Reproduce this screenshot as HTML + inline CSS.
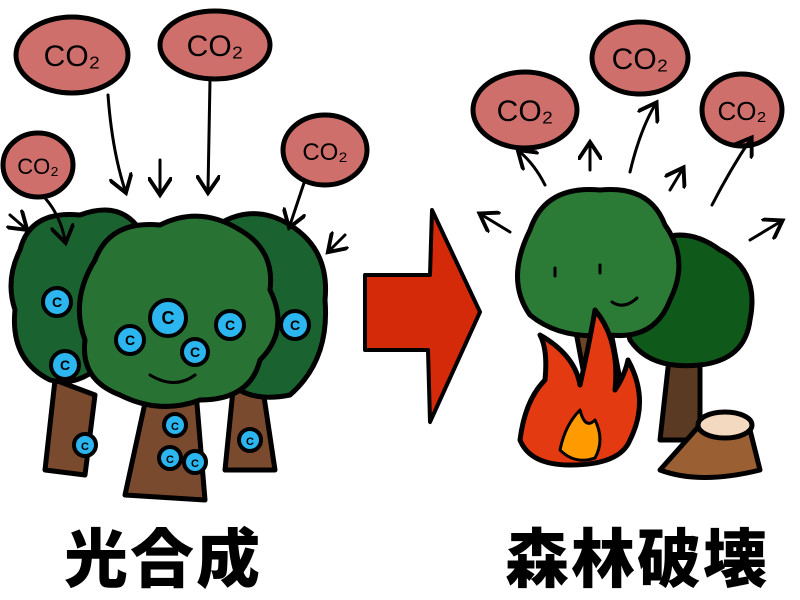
<!DOCTYPE html>
<html><head><meta charset="utf-8"><style>
html,body{margin:0;padding:0;background:#fff}
svg{display:block}
.t{font-family:"Liberation Sans","Noto Sans CJK JP",sans-serif;font-weight:900}
</style></head><body>
<svg width="800" height="600" viewBox="0 0 800 600" xmlns="http://www.w3.org/2000/svg">
<defs>
<marker id="ah" markerWidth="8" markerHeight="8" refX="5" refY="4" orient="auto" markerUnits="strokeWidth">
<path d="M0,0 L6,4 L0,8" fill="none" stroke="#000" stroke-width="1.3"/>
</marker>
</defs>
<g stroke="#000" stroke-width="5" stroke-linejoin="round" stroke-linecap="round">
<path d="M55,380 L45,470 L85,475 L95,395 Z" fill="#7a4a2e"/>
<path d="M150,380 L125,495 L205,500 L195,380 Z" fill="#7a4a2e"/>
<path d="M235,370 L225,470 L275,470 L260,370 Z" fill="#7a4a2e"/>
<path d="M20,250 Q30,210 80,215 Q120,200 140,230 Q150,280 120,340 Q90,390 50,380 Q10,360 15,310 Q5,280 20,250Z" fill="#1a6330"/>
<path d="M210,230 Q250,200 290,225 Q330,250 325,300 Q330,360 290,395 Q240,405 220,370 Q190,300 210,230Z" fill="#1a6330"/>
<path d="M95,260 Q110,220 160,225 Q200,205 240,230 Q275,250 270,290 Q290,330 260,360 Q250,400 200,400 Q160,415 120,395 Q80,380 85,340 Q70,300 95,260Z" fill="#287233"/>
<g fill="#2bb6f0" stroke-width="4">
<circle cx="57" cy="302" r="14"/><circle cx="65" cy="365" r="14"/><circle cx="130" cy="340" r="14"/>
<circle cx="168" cy="318" r="18"/><circle cx="195" cy="352" r="13"/><circle cx="230" cy="325" r="14"/>
<circle cx="295" cy="325" r="14"/><circle cx="175" cy="425" r="11"/><circle cx="170" cy="458" r="11"/>
<circle cx="195" cy="462" r="11"/><circle cx="250" cy="440" r="11"/><circle cx="85" cy="445" r="11"/>
</g>
<g fill="#cf6f6c">
<ellipse cx="72" cy="55" rx="56" ry="38"/><ellipse cx="215" cy="45" rx="55" ry="34"/>
<ellipse cx="38" cy="165" rx="35" ry="32"/><ellipse cx="325" cy="150" rx="42" ry="35"/>
<ellipse cx="525" cy="110" rx="52" ry="38"/><ellipse cx="640" cy="58" rx="48" ry="36"/>
<ellipse cx="742" cy="110" rx="40" ry="36"/>
</g>
<g fill="none" stroke-width="3" marker-end="url(#ah)">
<path d="M108,95 Q112,150 125,190"/><path d="M210,80 L208,190"/><path d="M160,160 L160,192"/>
<path d="M45,198 Q60,215 65,240"/><path d="M10,215 L25,228"/><path d="M305,180 L290,225"/>
<path d="M345,235 L330,250"/>
<path d="M545,185 Q535,165 520,152"/><path d="M590,170 L590,145"/><path d="M630,172 Q640,130 655,105"/>
<path d="M670,190 L682,170"/><path d="M712,205 Q730,170 750,140"/><path d="M750,240 L780,222"/>
<path d="M510,232 L482,215"/>
</g>
</g>
<g font-family="Liberation Sans,sans-serif" text-anchor="middle" fill="#000">
<g font-size="14" font-weight="700">
<text x="57" y="307">C</text><text x="65" y="370">C</text><text x="130" y="345">C</text>
<text x="168" y="324" font-size="18">C</text><text x="195" y="357">C</text><text x="230" y="330">C</text>
<text x="295" y="330">C</text><text x="175" y="430" font-size="11">C</text><text x="170" y="463" font-size="11">C</text>
<text x="195" y="467" font-size="11">C</text><text x="250" y="445" font-size="11">C</text><text x="85" y="450" font-size="11">C</text>
</g>
<g font-size="30">
<text x="72" y="66">CO₂</text><text x="215" y="56">CO₂</text><text x="38" y="174" font-size="22">CO₂</text>
<text x="325" y="160" font-size="24">CO₂</text><text x="525" y="121">CO₂</text><text x="640" y="69">CO₂</text>
<text x="742" y="120" font-size="26">CO₂</text>
</g>
</g>
<path d="M365,275 L430,275 L432,210 L480,312 L430,422 L428,350 L365,350 Z" fill="#d42a0a" stroke="#000" stroke-width="4" stroke-linejoin="round"/>
<g stroke="#000" stroke-width="5" stroke-linejoin="round">
<path d="M670,350 L660,440 L700,440 L700,350Z" fill="#5a3a22"/>
<path d="M640,250 Q680,220 720,250 Q760,270 750,320 Q745,360 700,365 Q650,370 630,340 Q615,290 640,250Z" fill="#0f5a1a"/>
<path d="M570,300 L585,380 L620,380 L605,300Z" fill="#6b4428"/>
<path d="M530,230 Q545,185 600,190 Q650,185 665,225 Q690,260 670,300 Q655,340 610,335 Q560,340 530,315 Q505,280 530,230Z" fill="#2b7a35"/>
<path d="M520,440 Q525,400 545,380 Q548,350 540,335 Q575,355 580,385 Q590,340 595,310 Q620,340 615,390 Q625,375 628,360 Q650,400 630,440 Q620,465 570,465 Q530,465 520,440Z" fill="#e33a12"/>
<path d="M560,450 Q565,425 580,410 Q585,430 595,420 Q605,440 595,458 Q575,465 560,450Z" fill="#ff9a00" stroke-width="3"/>
<path d="M700,425 L660,470 Q700,485 760,470 L750,430Z" fill="#9a6034"/>
<ellipse cx="725" cy="425" rx="27" ry="13" fill="#f3d9c0"/>
</g>
<g fill="none" stroke="#000" stroke-width="3" stroke-linecap="round">
<path d="M555,268 l0,8"/><path d="M600,265 l0,8"/><path d="M612,302 q12,8 25,-4"/>
<path d="M150,375 q25,15 45,0"/>
</g>
<text class="t" x="64" y="582" font-size="64" letter-spacing="2" fill="#000">光合成</text>
<text class="t" x="505" y="582" font-size="64" letter-spacing="2" fill="#000">森林破壊</text>
</svg>
</body></html>
